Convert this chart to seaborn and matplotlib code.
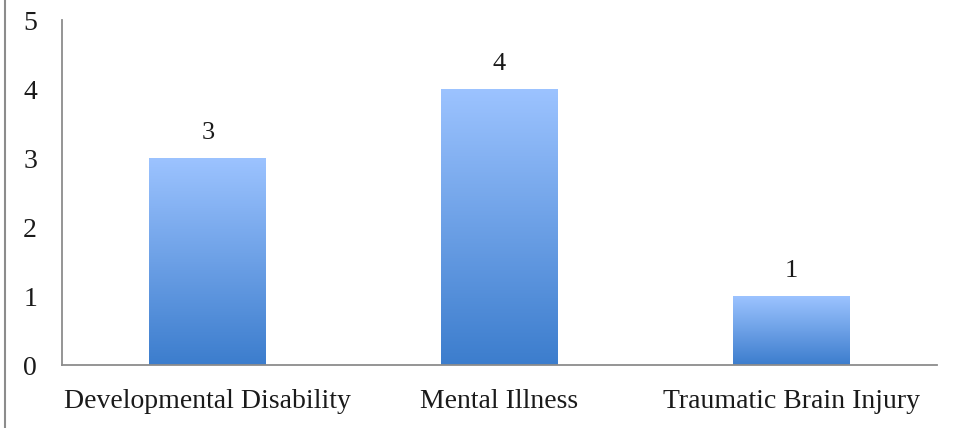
import numpy as np
import pandas as pd
import matplotlib.pyplot as plt
import seaborn as sns
from matplotlib.colors import LinearSegmentedColormap
from matplotlib.lines import Line2D

categories = ["Developmental Disability", "Mental Illness", "Traumatic Brain Injury"]
counts = [3, 4, 1]
y_ticks = [0, 1, 2, 3, 4, 5]

df = pd.DataFrame({"category": categories, "count": counts})

sns.set_style("white")
plt.rcParams["font.family"] = ["Liberation Serif", "DejaVu Serif"]

fig = plt.figure(figsize=(9.54, 4.28), dpi=100)
ax = fig.add_axes([0.065, 0.147, 0.917, 0.806])

sns.barplot(data=df, x="category", y="count", ax=ax, width=0.4,
            color="#6a9fe6", edgecolor="none", saturation=1)

# vertical gradient fill for each bar
cmap = LinearSegmentedColormap.from_list("bluegrad", ["#3c7dcd", "#9cc3ff"])
grad = np.linspace(0, 1, 256).reshape(-1, 1)
for p in ax.patches:
    x0, y0 = p.get_x(), p.get_y()
    w, h = p.get_width(), p.get_height()
    im = ax.imshow(grad, cmap=cmap, origin="lower", aspect="auto",
                   extent=[x0, x0 + w, y0, y0 + h], zorder=p.get_zorder() + 0.1)
    im.set_clip_path(p)
    ax.text(x0 + w / 2, y0 + h + 0.36, f"{int(h)}", ha="center", va="center",
            fontsize=19, color="#1a1a1a")

ax.set_xlim(-0.5, 2.5)
ax.set_ylim(0, 5)
ax.set_yticks(y_ticks)
ax.set_xlabel("")
ax.set_ylabel("")
ax.tick_params(axis="both", length=0, labelsize=20, colors="#1a1a1a")
ax.tick_params(axis="y", pad=18)
ax.tick_params(axis="x", pad=17)

for s in ["top", "right"]:
    ax.spines[s].set_visible(False)
for s in ["left", "bottom"]:
    ax.spines[s].set_color("#8c8c8c")
    ax.spines[s].set_linewidth(1.3)

# outer frame edge on the left
fig.add_artist(Line2D([5 / 954, 5 / 954], [0, 1], transform=fig.transFigure,
                      color="#8c8c8c", linewidth=1.5))

fig.savefig("out.png", dpi=100, facecolor="white")
